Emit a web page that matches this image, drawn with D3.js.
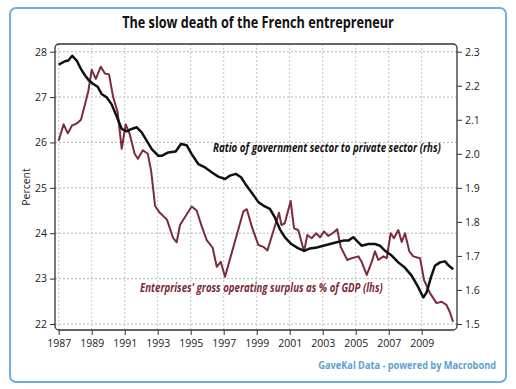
<!DOCTYPE html>
<meta charset="utf-8">
<style>
  body { margin: 0; background: #fff; }
  text { font-family: "Open Sans", "DejaVu Sans", sans-serif; }
</style>
<body>
<script src="https://d3js.org/d3.v7.min.js"></script>
<script>

// x ticks and axis ticks
var yearTicks = [1987, 1989, 1991, 1993, 1995, 1997, 1999, 2001, 2003, 2005, 2007, 2009];
var leftTicks = [22, 23, 24, 25, 26, 27, 28];
var rightTicks = [1.5, 1.6, 1.7, 1.8, 1.9, 2.0, 2.1, 2.2, 2.3];

// Enterprises' gross operating surplus as % of GDP (lhs)
var surplusYears = [1987.0, 1987.3, 1987.55, 1987.8, 1988.1, 1988.35, 1988.6, 1988.8, 1989.0, 1989.25,
  1989.55, 1989.8, 1990.05, 1990.3, 1990.57, 1990.82, 1991.06, 1991.3, 1991.6, 1991.8,
  1992.1, 1992.4, 1992.6, 1992.72, 1992.84, 1993.13, 1993.56, 1993.93, 1994.15, 1994.35,
  1995.06, 1995.36, 1995.67, 1995.97, 1996.33, 1996.58, 1996.82, 1997.08, 1998.19, 1998.4,
  1998.7, 1999.1, 1999.4, 1999.65, 2000.35, 2000.5, 2000.7, 2001.06, 2001.26, 2001.52,
  2001.87, 2002.07, 2002.33, 2002.6, 2002.84, 2003.08, 2003.34, 2003.64, 2003.88, 2004.09,
  2004.49, 2004.76, 2005.16, 2005.36, 2005.67, 2005.97, 2006.17, 2006.37, 2006.67, 2006.88,
  2007.12, 2007.32, 2007.58, 2007.79, 2007.99, 2008.25, 2008.49, 2008.9, 2009.14, 2009.5,
  2009.9, 2010.2, 2010.5, 2010.7, 2010.9];
var surplusValues = [26.04, 26.4, 26.2, 26.37, 26.42, 26.5, 26.85, 27.14, 27.6, 27.4,
  27.67, 27.52, 27.5, 27.0, 26.67, 25.86, 26.4, 26.19, 25.75, 25.64,
  25.83, 25.75, 25.38, 25.0, 24.6, 24.45, 24.3, 23.9, 23.8, 24.18,
  24.59, 24.5, 24.15, 23.85, 23.68, 23.26, 23.37, 23.04, 24.48, 24.53,
  24.15, 23.74, 23.7, 23.62, 24.45, 24.18, 24.22, 24.71, 24.11, 24.07,
  23.6, 23.96, 23.89, 24.0, 23.91, 24.04, 23.94, 24.01, 24.09, 23.7,
  23.41, 23.45, 23.49, 23.37, 23.08, 23.37, 23.6, 23.41, 23.49, 23.45,
  24.0, 23.89, 24.07, 23.81, 24.0, 23.6, 23.49, 23.45, 22.97, 22.68,
  22.46, 22.49, 22.42, 22.27, 22.05];

// Ratio of government sector to private sector (rhs)
var ratioYears = [1987.0, 1987.38, 1987.58, 1987.82, 1988.09, 1988.35, 1988.6, 1988.84, 1989.1, 1989.36,
  1989.6, 1989.9, 1990.2, 1990.5, 1990.82, 1991.12, 1991.42, 1991.73, 1992.03, 1992.33,
  1992.64, 1993.04, 1993.24, 1993.64, 1994.09, 1994.41, 1994.76, 1995.06, 1995.46, 1995.87,
  1996.27, 1996.67, 1997.08, 1997.38, 1997.73, 1998.05, 1998.29, 1998.6, 1998.9, 1999.1,
  1999.4, 1999.8, 2000.1, 2000.4, 2000.7, 2001.1, 2001.5, 2001.88, 2002.23, 2002.64,
  2003.04, 2003.44, 2003.85, 2004.25, 2004.55, 2004.85, 2005.16, 2005.36, 2005.77, 2006.17,
  2006.47, 2006.78, 2007.18, 2007.58, 2007.99, 2008.39, 2008.79, 2009.1, 2009.3, 2009.56,
  2009.8, 2010.11, 2010.41, 2010.65, 2010.91];
var ratioValues = [2.262, 2.272, 2.274, 2.288, 2.274, 2.249, 2.23, 2.215, 2.205, 2.197,
  2.176, 2.166, 2.146, 2.112, 2.073, 2.066, 2.073, 2.078, 2.063, 2.039,
  2.014, 1.994, 1.994, 2.004, 2.007, 2.029, 2.025, 1.999, 1.97, 1.96,
  1.946, 1.933, 1.926, 1.936, 1.941, 1.931, 1.913, 1.892, 1.872, 1.858,
  1.848, 1.838, 1.813, 1.779, 1.755, 1.735, 1.723, 1.715, 1.722, 1.725,
  1.73, 1.735, 1.74, 1.745, 1.745, 1.755, 1.74, 1.73, 1.735, 1.735,
  1.73, 1.715, 1.701, 1.681, 1.665, 1.642, 1.608, 1.578, 1.593, 1.637,
  1.671, 1.681, 1.684, 1.671, 1.661];

var surplus = surplusYears.map(function(t, i) { return {t: t, v: surplusValues[i]}; });
var ratio = ratioYears.map(function(t, i) { return {t: t, v: ratioValues[i]}; });

var red = "#7b2b3c";

var svg = d3.select("body").append("svg")
    .attr("width", 516)
    .attr("height", 389);

// squeeze a text horizontally so it spans "width" px (the source font is condensed)
function fitText(sel, px, py, width) {
  var w = sel.node().getComputedTextLength();
  var s = Math.min(1, width / w);
  sel.attr("transform", "translate(" + px + "," + py + ") scale(" + s + ",1)");
  return sel;
}

// outer blue box
svg.append("rect")
    .attr("x", 10).attr("y", 8)
    .attr("width", 496).attr("height", 374)
    .attr("rx", 6)
    .style("fill", "#fff")
    .style("stroke", "#6fb0d8")
    .style("stroke-width", 2);

svg.append("text")
    .attr("text-anchor", "middle")
    .style("font-size", "15.5px")
    .style("font-weight", "bold")
    .style("fill", "#111")
    .text("The slow death of the French entrepreneur")
    .call(fitText, 258, 28, 272);

var frame = {left: 55, right: 457, top: 44, bottom: 330};

var x = d3.scaleLinear().domain([1987, 2011]).range([58.7, 454.7]);
var yL = d3.scaleLinear().domain([22, 28]).range([324, 51.7]);
var yR = d3.scaleLinear().domain([1.5, 2.3]).range([324, 51.7]);

// grid
svg.append("g").selectAll("line.h")
    .data(leftTicks)
  .enter().append("line")
    .attr("x1", frame.left).attr("x2", frame.right)
    .attr("y1", yL).attr("y2", yL)
    .style("stroke", "#b8b8b8")
    .style("stroke-dasharray", "2,2");

svg.append("g").selectAll("line.v")
    .data(yearTicks)
  .enter().append("line")
    .attr("x1", x).attr("x2", x)
    .attr("y1", frame.top).attr("y2", frame.bottom)
    .style("stroke", "#c4c4c4")
    .style("stroke-dasharray", "2,2");

// frame
svg.append("rect")
    .attr("x", frame.left).attr("y", frame.top)
    .attr("width", frame.right - frame.left)
    .attr("height", frame.bottom - frame.top)
    .attr("rx", 4)
    .style("fill", "none")
    .style("stroke", "#333")
    .style("stroke-width", 1.3);

// axes
var leftAxis = d3.axisLeft(yL).tickValues(leftTicks).tickSize(5).tickPadding(3)
    .tickFormat(d3.format("d"));
var rightAxis = d3.axisRight(yR).tickValues(rightTicks).tickSize(5).tickPadding(3)
    .tickFormat(d3.format(".1f"));
var bottomAxis = d3.axisBottom(x).tickValues(yearTicks).tickSize(5).tickPadding(5)
    .tickFormat(d3.format("d"));

function styleAxis(g) {
  g.select(".domain").remove();
  g.selectAll("line").style("stroke", "#333");
  g.selectAll("text")
      .style("font-size", "10.5px")
      .style("font-family", "'Open Sans', sans-serif")
      .style("fill", "#222");
}

svg.append("g").attr("transform", "translate(" + frame.left + ",0)").call(leftAxis).call(styleAxis);
svg.append("g").attr("transform", "translate(" + frame.right + ",0)").call(rightAxis).call(styleAxis);
svg.append("g").attr("transform", "translate(0," + frame.bottom + ")").call(bottomAxis).call(styleAxis);

svg.append("text")
    .attr("transform", "translate(30,187) rotate(-90)")
    .attr("text-anchor", "middle")
    .style("font-size", "10.5px")
    .style("fill", "#222")
    .text("Percent");

// series
var surplusLine = d3.line()
    .x(function(d) { return x(d.t); })
    .y(function(d) { return yL(d.v); });
var ratioLine = d3.line()
    .x(function(d) { return x(d.t); })
    .y(function(d) { return yR(d.v); });

svg.append("path")
    .datum(surplus)
    .attr("d", surplusLine)
    .style("fill", "none")
    .style("stroke", red)
    .style("stroke-width", 2)
    .style("stroke-linejoin", "round");

svg.append("path")
    .datum(ratio)
    .attr("d", ratioLine)
    .style("fill", "none")
    .style("stroke", "#111")
    .style("stroke-width", 2.5)
    .style("stroke-linejoin", "round");

// annotations
svg.append("text")
    .style("font-size", "11.5px")
    .style("font-weight", "bold")
    .style("font-style", "italic")
    .style("fill", "#111")
    .text("Ratio of government sector to private sector  (rhs)")
    .call(fitText, 213, 152, 228);

svg.append("text")
    .style("font-size", "11.5px")
    .style("font-weight", "bold")
    .style("font-style", "italic")
    .style("fill", red)
    .text("Enterprises' gross operating surplus as % of GDP (lhs)")
    .call(fitText, 140, 292, 243);

svg.append("text")
    .attr("text-anchor", "end")
    .style("font-size", "11px")
    .style("font-weight", "bold")
    .style("fill", "#5d9fcf")
    .text("GaveKal Data - powered by Macrobond")
    .call(fitText, 496, 369, 178);

</script>
